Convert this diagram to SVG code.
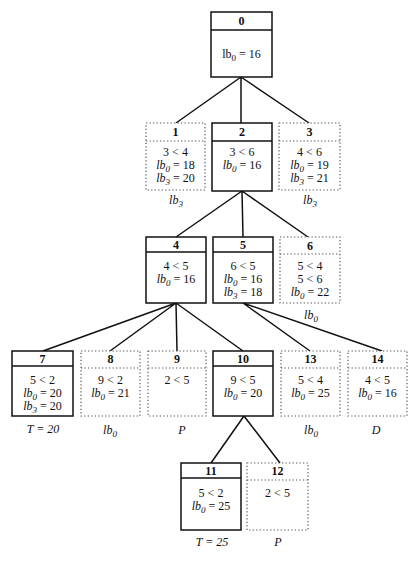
<svg xmlns="http://www.w3.org/2000/svg" width="414" height="568" viewBox="0 0 414 568">
<style>
text{font-family:"Liberation Serif","DejaVu Serif",serif;font-size:12px;fill:#111;text-anchor:middle}
.h{font-weight:bold}
.i{font-style:italic}
.s{font-size:9px}
.solid{fill:#fff;stroke:#111;stroke-width:1.5}
.dot{fill:#fff;stroke:#555;stroke-width:1.2;stroke-dasharray:1.3,2.2}
.edge{stroke:#111;stroke-width:1.5;fill:none}
</style>
<rect width="414" height="568" fill="#fff"/>
<g id="connectors">
<path class="edge" d="M241,77 L176,123 M241,77 L241,123 M241,77 L309,123"/>
<path class="edge" d="M242,191 L176,237 M242,191 L243,237 M242,191 L308,237"/>
<path class="edge" d="M176,303 L43,351 M176,303 L110,351 M176,303 L177,351 M176,303 L243,351"/>
<path class="edge" d="M243,303 L310,351 M243,303 L382,351"/>
<path class="edge" d="M244,416 L211,463 M244,416 L280,463"/>
</g>
<g id="node0">
<rect class="solid" x="211" y="12" width="61" height="65"/><line class="solid" x1="211" y1="30" x2="272" y2="30"/>
<text class="h" x="241.5" y="25">0</text>
<text x="241.5" y="58">lb<tspan class="s" dy="3">0</tspan><tspan dy="-3"> = 16</tspan></text>
</g>
<g id="node1">
<rect class="dot" x="146" y="123" width="59" height="67"/><line class="dot" x1="146" y1="141" x2="205" y2="141"/>
<text class="h" x="175.5" y="136">1</text>
<text x="175.5" y="156">3 &lt; 4</text>
<text x="175.5" y="169"><tspan class="i">lb</tspan><tspan class="s i" dy="3">0</tspan><tspan dy="-3"> = 18</tspan></text>
<text x="175.5" y="182"><tspan class="i">lb</tspan><tspan class="s i" dy="3">3</tspan><tspan dy="-3"> = 20</tspan></text>
<text class="i" x="176" y="204">lb<tspan class="s" dy="3">3</tspan></text>
</g>
<g id="node2">
<rect class="solid" x="212" y="123" width="60" height="68"/><line class="solid" x1="212" y1="141" x2="272" y2="141"/>
<text class="h" x="242" y="136">2</text>
<text x="242" y="156">3 &lt; 6</text>
<text x="242" y="169"><tspan class="i">lb</tspan><tspan class="s i" dy="3">0</tspan><tspan dy="-3"> = 16</tspan></text>
</g>
<g id="node3">
<rect class="dot" x="279" y="123" width="61" height="67"/><line class="dot" x1="279" y1="141" x2="340" y2="141"/>
<text class="h" x="309.5" y="136">3</text>
<text x="309.5" y="156">4 &lt; 6</text>
<text x="309.5" y="169"><tspan class="i">lb</tspan><tspan class="s i" dy="3">0</tspan><tspan dy="-3"> = 19</tspan></text>
<text x="309.5" y="182"><tspan class="i">lb</tspan><tspan class="s i" dy="3">3</tspan><tspan dy="-3"> = 21</tspan></text>
<text class="i" x="310" y="204">lb<tspan class="s" dy="3">3</tspan></text>
</g>
<g id="node4">
<rect class="solid" x="146" y="237" width="60" height="66"/><line class="solid" x1="146" y1="252" x2="206" y2="252"/>
<text class="h" x="176" y="248.5">4</text>
<text x="176" y="270">4 &lt; 5</text>
<text x="176" y="283"><tspan class="i">lb</tspan><tspan class="s i" dy="3">0</tspan><tspan dy="-3"> = 16</tspan></text>
</g>
<g id="node5">
<rect class="solid" x="213" y="237" width="60" height="66"/><line class="solid" x1="213" y1="252" x2="273" y2="252"/>
<text class="h" x="243" y="248.5">5</text>
<text x="243" y="270">6 &lt; 5</text>
<text x="243" y="283"><tspan class="i">lb</tspan><tspan class="s i" dy="3">0</tspan><tspan dy="-3"> = 16</tspan></text>
<text x="243" y="296"><tspan class="i">lb</tspan><tspan class="s i" dy="3">3</tspan><tspan dy="-3"> = 18</tspan></text>
<text class="i" x="311" y="319">lb<tspan class="s" dy="3">0</tspan></text>
</g>
<g id="node6">
<rect class="dot" x="280" y="237" width="60" height="66"/><line class="dot" x1="280" y1="254" x2="340" y2="254"/>
<text class="h" x="310" y="249.5">6</text>
<text x="310" y="270">5 &lt; 4</text>
<text x="310" y="283">5 &lt; 6</text>
<text x="310" y="296"><tspan class="i">lb</tspan><tspan class="s i" dy="3">0</tspan><tspan dy="-3"> = 22</tspan></text>
</g>
<g id="node7">
<rect class="solid" x="12" y="351" width="61" height="65"/><line class="solid" x1="12" y1="366" x2="73" y2="366"/>
<text class="h" x="42.5" y="362.5">7</text>
<text x="42.5" y="384">5 &lt; 2</text>
<text x="42.5" y="397"><tspan class="i">lb</tspan><tspan class="s i" dy="3">0</tspan><tspan dy="-3"> = 20</tspan></text>
<text x="42.5" y="410"><tspan class="i">lb</tspan><tspan class="s i" dy="3">3</tspan><tspan dy="-3"> = 20</tspan></text>
<text class="i" x="43" y="433">T = 20</text>
</g>
<g id="node8">
<rect class="dot" x="81" y="351" width="59" height="65"/><line class="dot" x1="81" y1="368" x2="140" y2="368"/>
<text class="h" x="110.5" y="363">8</text>
<text x="110.5" y="384">9 &lt; 2</text>
<text x="110.5" y="397"><tspan class="i">lb</tspan><tspan class="s i" dy="3">0</tspan><tspan dy="-3"> = 21</tspan></text>
<text class="i" x="110" y="434">lb<tspan class="s" dy="3">0</tspan></text>
</g>
<g id="node9">
<rect class="dot" x="148" y="351" width="58" height="65"/><line class="dot" x1="148" y1="368" x2="206" y2="368"/>
<text class="h" x="177" y="363">9</text>
<text x="177" y="384">2 &lt; 5</text>
<text class="i" x="182" y="434">P</text>
</g>
<g id="node10">
<rect class="solid" x="213" y="351" width="60" height="65"/><line class="solid" x1="213" y1="366" x2="273" y2="366"/>
<text class="h" x="243" y="362.5">10</text>
<text x="243" y="384">9 &lt; 5</text>
<text x="243" y="397"><tspan class="i">lb</tspan><tspan class="s i" dy="3">0</tspan><tspan dy="-3"> = 20</tspan></text>
</g>
<g id="node13">
<rect class="dot" x="281" y="351" width="59" height="65"/><line class="dot" x1="281" y1="368" x2="340" y2="368"/>
<text class="h" x="310.5" y="363">13</text>
<text x="310.5" y="384">5 &lt; 4</text>
<text x="310.5" y="397"><tspan class="i">lb</tspan><tspan class="s i" dy="3">0</tspan><tspan dy="-3"> = 25</tspan></text>
<text class="i" x="311" y="434">lb<tspan class="s" dy="3">0</tspan></text>
</g>
<g id="node14">
<rect class="dot" x="348" y="351" width="59" height="65"/><line class="dot" x1="348" y1="368" x2="407" y2="368"/>
<text class="h" x="377.5" y="363">14</text>
<text x="377.5" y="384">4 &lt; 5</text>
<text x="377.5" y="397"><tspan class="i">lb</tspan><tspan class="s i" dy="3">0</tspan><tspan dy="-3"> = 16</tspan></text>
<text class="i" x="376" y="434">D</text>
</g>
<g id="node11">
<rect class="solid" x="181" y="463" width="60" height="67"/><line class="solid" x1="181" y1="478" x2="241" y2="478"/>
<text class="h" x="211" y="474.5">11</text>
<text x="211" y="497">5 &lt; 2</text>
<text x="211" y="510"><tspan class="i">lb</tspan><tspan class="s i" dy="3">0</tspan><tspan dy="-3"> = 25</tspan></text>
<text class="i" x="212" y="546">T = 25</text>
</g>
<g id="node12">
<rect class="dot" x="247" y="463" width="61" height="67"/><line class="dot" x1="247" y1="480" x2="308" y2="480"/>
<text class="h" x="277.5" y="475">12</text>
<text x="277.5" y="497">2 &lt; 5</text>
<text class="i" x="278" y="546">P</text>
</g>
</svg>
